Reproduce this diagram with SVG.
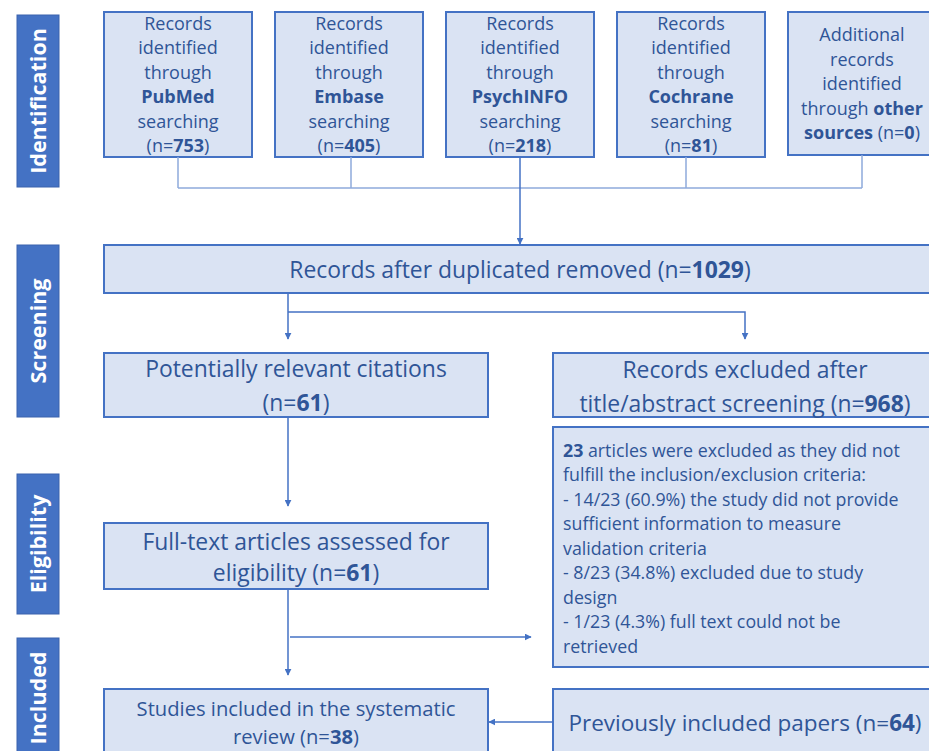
<svg xmlns="http://www.w3.org/2000/svg" width="929" height="751" viewBox="0 0 929 751">
<defs>
<style>
.box{fill:#DAE3F3;stroke:#4472C4;stroke-width:2}
.side{fill:#4472C4;stroke:#3A63AD;stroke-width:1}
.st{font-family:"Open Sans","Liberation Sans",sans-serif;font-size:21.5px;font-weight:bold;fill:#fff;text-anchor:middle}
.t{font-family:"Open Sans","Liberation Sans",sans-serif;fill:#2F5597;text-anchor:middle}
.s18{font-size:18px}
.s17{font-size:17.8px}
.s21{font-size:22.9px}
.s19{font-size:20.2px}
.s22{font-size:22.5px}
.l{text-anchor:start}
.b{font-weight:bold}
.thin{stroke:#8FAADC;stroke-width:1.5;fill:none}
.arr{stroke:#4472C4;stroke-width:1.5;fill:none}
</style>
<marker id="ah" viewBox="0 0 10 10" refX="9" refY="5" markerWidth="7" markerHeight="7" orient="auto" markerUnits="userSpaceOnUse">
<path d="M0,0 L10,5 L0,10 z" fill="#4472C4"/>
</marker>
</defs>

<g id="side-identification"><rect class="side" x="17" y="15" width="42" height="172"/><text class="st" transform="translate(46,101) rotate(-90)">Identification</text></g>
<g id="side-screening"><rect class="side" x="17" y="245" width="42" height="172"/><text class="st" transform="translate(46,331) rotate(-90)">Screening</text></g>
<g id="side-eligibility"><rect class="side" x="17" y="474" width="42" height="140"/><text class="st" transform="translate(46,544) rotate(-90)">Eligibility</text></g>
<g id="side-included"><rect class="side" x="17" y="638" width="42" height="120"/><text class="st" transform="translate(46,698) rotate(-90)">Included</text></g>

<g id="pubmed"><rect class="box" x="104" y="12" width="148" height="145"/>
<text class="t s18"><tspan x="178" y="30">Records</tspan><tspan x="178" y="54">identified</tspan><tspan x="178" y="79">through</tspan><tspan x="178" y="103" class="b">PubMed</tspan><tspan x="178" y="128">searching</tspan><tspan x="178" y="152">(n=<tspan class="b">753</tspan>)</tspan></text></g>
<g id="embase"><rect class="box" x="275" y="12" width="148" height="145"/>
<text class="t s18"><tspan x="349" y="30">Records</tspan><tspan x="349" y="54">identified</tspan><tspan x="349" y="79">through</tspan><tspan x="349" y="103" class="b">Embase</tspan><tspan x="349" y="128">searching</tspan><tspan x="349" y="152">(n=<tspan class="b">405</tspan>)</tspan></text></g>
<g id="psychinfo"><rect class="box" x="446" y="12" width="148" height="145"/>
<text class="t s18"><tspan x="520" y="30">Records</tspan><tspan x="520" y="54">identified</tspan><tspan x="520" y="79">through</tspan><tspan x="520" y="103" class="b">PsychINFO</tspan><tspan x="520" y="128">searching</tspan><tspan x="520" y="152">(n=<tspan class="b">218</tspan>)</tspan></text></g>
<g id="cochrane"><rect class="box" x="617" y="12" width="148" height="145"/>
<text class="t s18"><tspan x="691" y="30">Records</tspan><tspan x="691" y="54">identified</tspan><tspan x="691" y="79">through</tspan><tspan x="691" y="103" class="b">Cochrane</tspan><tspan x="691" y="128">searching</tspan><tspan x="691" y="152">(n=<tspan class="b">81</tspan>)</tspan></text></g>
<g id="other"><rect class="box" x="788" y="12" width="150" height="143"/>
<text class="t s18"><tspan x="862" y="41">Additional</tspan><tspan x="862" y="66">records</tspan><tspan x="862" y="90">identified</tspan><tspan x="862" y="115">through <tspan class="b">other</tspan></tspan><tspan x="862" y="139"><tspan class="b">sources</tspan> (n=<tspan class="b">0</tspan>)</tspan></text></g>

<g id="dedup"><rect class="box" x="104" y="245" width="835" height="48"/>
<text class="t s21" x="520" y="278">Records after duplicated removed (n=<tspan class="b">1029</tspan>)</text></g>

<g id="relevant"><rect class="box" x="104" y="353" width="384" height="64"/>
<text class="t s21"><tspan x="296" y="377">Potentially relevant citations</tspan><tspan x="296" y="411">(n=<tspan class="b">61</tspan>)</tspan></text></g>
<g id="excluded1"><rect class="box" x="553" y="353" width="386" height="64"/>
<text class="t s21"><tspan x="745" y="378">Records excluded after</tspan><tspan x="745" y="412">title/abstract screening (n=<tspan class="b">968</tspan>)</tspan></text></g>

<g id="excluded2"><rect class="box" x="553" y="427" width="386" height="240"/>
<text class="t s17 l"><tspan x="563" y="457"><tspan class="b">23</tspan> articles were excluded as they did not</tspan><tspan x="563" y="481">fulfill the inclusion/exclusion criteria:</tspan><tspan x="563" y="506">- 14/23 (60.9%) the study did not provide</tspan><tspan x="563" y="530">sufficient information to measure</tspan><tspan x="563" y="555">validation criteria</tspan><tspan x="563" y="579">- 8/23 (34.8%) excluded due to study</tspan><tspan x="563" y="604">design</tspan><tspan x="563" y="628">- 1/23 (4.3%) full text could not be</tspan><tspan x="563" y="653">retrieved</tspan></text></g>

<g id="fulltext"><rect class="box" x="104" y="523" width="384" height="66"/>
<text class="t s21"><tspan x="296" y="550">Full-text articles assessed for</tspan><tspan x="296" y="581">eligibility (n=<tspan class="b">61</tspan>)</tspan></text></g>

<g id="included"><rect class="box" x="104" y="689" width="384" height="70"/>
<text class="t s19"><tspan x="296" y="716">Studies included in the systematic</tspan><tspan x="296" y="744">review (n=<tspan class="b">38</tspan>)</tspan></text></g>
<g id="previous"><rect class="box" x="553" y="689" width="386" height="70"/>
<text class="t s22" x="745" y="731">Previously included papers (n=<tspan class="b">64</tspan>)</text></g>

<g id="connectors">
<path class="thin" d="M178,157 V188 M351,157 V188 M686,157 V188 M862,155 V188 M178,188 H862"/>
<path class="arr" d="M520,157 V244" marker-end="url(#ah)"/>
<path class="arr" d="M288,293 V339" marker-end="url(#ah)"/>
<path class="arr" d="M288,312 H745 V339" marker-end="url(#ah)"/>
<path class="arr" d="M288,417 V506" marker-end="url(#ah)"/>
<path class="arr" d="M288,589 V675" marker-end="url(#ah)"/>
<path class="arr" d="M290,637 H531" marker-end="url(#ah)"/>
<path class="arr" d="M553,722 H489" marker-end="url(#ah)"/>
</g>
</svg>
